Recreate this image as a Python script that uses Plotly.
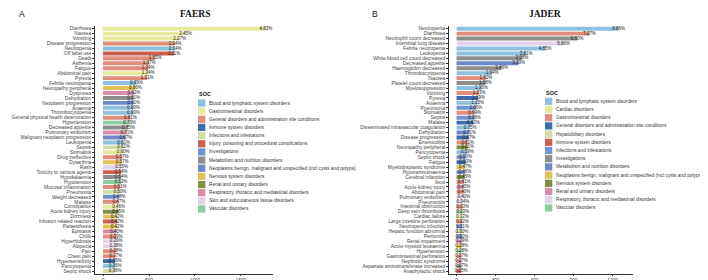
import plotly.graph_objects as go

W, H = 708, 280

# ---------------- data ----------------
faers_terms = ["Diarrhoea", "Nausea", "Vomiting", "Disease progression", "Neutropenia", "Off label use",
               "Death", "Asthenia", "Fatigue", "Abdominal pain", "Pyrexia", "Febrile neutropenia",
               "Neuropathy peripheral", "Dyspnoea", "Dehydration", "Neoplasm progression", "Anaemia",
               "Thrombocytopenia", "General physical health deterioration", "Hypertension",
               "Decreased appetite", "Pulmonary embolism", "Malignant neoplasm progression", "Leukopenia",
               "Sepsis", "Stomatitis", "Drug ineffective", "Dysarthria", "Rash", "Toxicity to various agents",
               "Hypokalaemia", "Hypotension", "Mucosal inflammation", "Pneumonia", "Weight decreased",
               "Malaise", "Constipation", "Acute kidney injury", "Dizziness", "Infusion related reaction",
               "Paraesthesia", "Epistaxis", "Chills", "Hyperhidrosis", "Alopecia", "Pain", "Chest pain",
               "Hypersensitivity", "Pancytopenia", "Septic shock"]
faers_counts = [1770, 898, 832, 784, 783, 773, 568, 502, 491, 490, 480, 363, 352, 337, 334, 333, 330, 329,
                297, 290, 275, 260, 246, 224, 223, 220, 209, 208, 202, 198, 197, 194, 187, 183, 176, 172,
                169, 168, 154, 154, 153, 147, 143, 142, 139, 139, 136, 132, 132, 131]
faers_labels = ["4.83%", "2.45%", "2.27%", "2.14%", "2.14%", "2.11%", "1.55%", "1.37%", "1.34%", "1.34%",
                "1.31%", "0.99%", "0.96%", "0.92%", "0.91%", "0.91%", "0.90%", "0.90%", "0.81%", "0.79%",
                "0.75%", "0.71%", "0.67%", "0.61%", "0.61%", "0.60%", "0.57%", "0.57%", "0.55%", "0.54%",
                "0.54%", "0.53%", "0.51%", "0.50%", "0.48%", "0.47%", "0.46%", "0.46%", "0.42%", "0.42%",
                "0.42%", "0.40%", "0.39%", "0.39%", "0.38%", "0.38%", "0.37%", "0.36%", "0.36%", "0.36%"]
faers_soc = ["Gastrointestinal disorders", "Gastrointestinal disorders", "Gastrointestinal disorders",
             "General disorders and administration site conditions", "Blood and lymphatic system disorders",
             "Injury, poisoning and procedural complications",
             "General disorders and administration site conditions",
             "General disorders and administration site conditions",
             "General disorders and administration site conditions", "Gastrointestinal disorders",
             "General disorders and administration site conditions", "Blood and lymphatic system disorders",
             "Nervous system disorders", "Respiratory, thoracic and mediastinal disorders",
             "Metabolism and nutrition disorders",
             "Neoplasms benign, malignant and unspecified (incl cysts and polyps)",
             "Blood and lymphatic system disorders", "Blood and lymphatic system disorders",
             "General disorders and administration site conditions", "Vascular disorders",
             "Metabolism and nutrition disorders", "Respiratory, thoracic and mediastinal disorders",
             "Neoplasms benign, malignant and unspecified (incl cysts and polyps)",
             "Blood and lymphatic system disorders", "Infections and infestations", "Gastrointestinal disorders",
             "General disorders and administration site conditions", "Nervous system disorders",
             "Skin and subcutaneous tissue disorders", "Injury, poisoning and procedural complications",
             "Metabolism and nutrition disorders", "Vascular disorders",
             "General disorders and administration site conditions", "Infections and infestations",
             "Investigations", "General disorders and administration site conditions",
             "Gastrointestinal disorders", "Renal and urinary disorders", "Nervous system disorders",
             "Injury, poisoning and procedural complications", "Nervous system disorders",
             "Respiratory, thoracic and mediastinal disorders",
             "General disorders and administration site conditions", "Skin and subcutaneous tissue disorders",
             "Skin and subcutaneous tissue disorders", "General disorders and administration site conditions",
             "General disorders and administration site conditions", "Immune system disorders",
             "Blood and lymphatic system disorders", "Infections and infestations"]
faers_legend = ["Blood and lymphatic system disorders", "Gastrointestinal disorders",
                "General disorders and administration site conditions", "Immune system disorders",
                "Infections and infestations", "Injury, poisoning and procedural complications",
                "Investigations", "Metabolism and nutrition disorders",
                "Neoplasms benign, malignant and unspecified (incl cysts and polyps)",
                "Nervous system disorders", "Renal and urinary disorders",
                "Respiratory, thoracic and mediastinal disorders", "Skin and subcutaneous tissue disorders",
                "Vascular disorders"]

jader_terms = ["Neutropenia", "Diarrhoea", "Neutrophil count decreased", "Interstitial lung disease",
               "Febrile neutropenia", "Leukopenia", "White blood cell count decreased", "Decreased appetite",
               "Haemoglobin decreased", "Thrombocytopenia", "Nausea", "Platelet count decreased",
               "Myelosuppression", "Vomiting", "Pyrexia", "Anaemia", "Pneumonia", "Stomatitis", "Sepsis",
               "Malaise", "Disseminated intravascular coagulation", "Dehydration", "Disease progression",
               "Enterocolitis", "Neuropathy peripheral", "Pancytopenia", "Septic shock", "Fatigue",
               "Myelodysplastic syndrome", "Hyperammonaemia", "Cerebral infarction", "Ileus",
               "Acute kidney injury", "Abdominal pain", "Pulmonary embolism", "Pneumonitis",
               "Intestinal obstruction", "Deep vein thrombosis", "Cardiac failure", "Large intestine perforation",
               "Neutropenic infection", "Hepatic function abnormal", "Peritonitis", "Renal impairment",
               "Acute myeloid leukaemia", "Hypertension", "Gastrointestinal perforation", "Nephrotic syndrome",
               "Aspartate aminotransferase increased", "Anaphylactic shock"]
jader_counts = [1246, 1022, 928, 824, 682, 536, 503, 477, 346, 273, 225, 222, 191, 173, 167, 162, 149, 139,
                138, 129, 105, 100, 94, 86, 86, 83, 70, 70, 66, 65, 63, 58, 56, 56, 56, 48, 46, 46, 45, 45,
                44, 42, 42, 41, 39, 39, 38, 38, 38, 35]
jader_labels = ["8.86%", "7.27%", "6.60%", "5.86%", "4.85%", "3.81%", "3.58%", "3.39%", "2.46%", "1.94%",
                "1.60%", "1.58%", "1.36%", "1.23%", "1.19%", "1.15%", "1.06%", "0.99%", "0.98%", "0.92%",
                "0.75%", "0.71%", "0.67%", "0.61%", "0.61%", "0.59%", "0.50%", "0.50%", "0.47%", "0.46%",
                "0.45%", "0.41%", "0.40%", "0.40%", "0.40%", "0.34%", "0.33%", "0.33%", "0.32%", "0.32%",
                "0.31%", "0.30%", "0.30%", "0.29%", "0.28%", "0.28%", "0.27%", "0.27%", "0.27%", "0.25%"]
jader_soc = ["Blood and lymphatic system disorders", "Gastrointestinal disorders", "Investigations",
             "Respiratory, thoracic and mediastinal disorders", "Blood and lymphatic system disorders",
             "Blood and lymphatic system disorders", "Investigations", "Metabolism and nutrition disorders",
             "Investigations", "Blood and lymphatic system disorders", "Gastrointestinal disorders",
             "Investigations", "Blood and lymphatic system disorders", "Gastrointestinal disorders",
             "General disorders and administration site conditions", "Blood and lymphatic system disorders",
             "Infections and infestations", "Gastrointestinal disorders", "Infections and infestations",
             "General disorders and administration site conditions", "Blood and lymphatic system disorders",
             "Metabolism and nutrition disorders", "General disorders and administration site conditions",
             "Gastrointestinal disorders", "Nervous system disorders", "Blood and lymphatic system disorders",
             "Infections and infestations", "General disorders and administration site conditions",
             "Neoplasms benign, malignant and unspecified (incl cysts and polyps)",
             "Metabolism and nutrition disorders", "Nervous system disorders", "Gastrointestinal disorders",
             "Renal and urinary disorders", "Gastrointestinal disorders",
             "Respiratory, thoracic and mediastinal disorders", "Respiratory, thoracic and mediastinal disorders",
             "Gastrointestinal disorders", "Vascular disorders", "Cardiac disorders", "Gastrointestinal disorders",
             "Infections and infestations", "Hepatobiliary disorders", "Infections and infestations",
             "Renal and urinary disorders",
             "Neoplasms benign, malignant and unspecified (incl cysts and polyps)", "Vascular disorders",
             "Gastrointestinal disorders", "Renal and urinary disorders", "Investigations",
             "Immune system disorders"]
jader_legend = ["Blood and lymphatic system disorders", "Cardiac disorders", "Gastrointestinal disorders",
                "General disorders and administration site conditions", "Hepatobiliary disorders",
                "Immune system disorders", "Infections and infestations", "Investigations",
                "Metabolism and nutrition disorders",
                "Neoplasms benign, malignant and unspecified (incl cysts and polyps)",
                "Nervous system disorders", "Renal and urinary disorders",
                "Respiratory, thoracic and mediastinal disorders", "Vascular disorders"]

faers_ticks = [0, 500, 1000, 1500]
jader_ticks = [0, 300, 600, 900, 1200]

palette = ["#8EC0E0", "#E6E99E", "#E28C7B", "#3C6BAE", "#D4DBA5", "#CD5F4F", "#7392D2",
           "#8E8E8E", "#6E87CB", "#E2C254", "#7D8F41", "#D78DA7", "#E3D2E8", "#90CCA1"]

SANS = "Liberation Sans, Arial, sans-serif"
SERIF = "Liberation Serif, Times New Roman, serif"

fig = go.Figure()


def px_x(p):
    return p / W


def px_y(p):
    return 1 - p / H


def add_panel(terms, counts, labels, socs, legend, xa, ya):
    cmap = {s: palette[i] for i, s in enumerate(legend)}
    for s in legend:
        ys = [t for t, so in zip(terms, socs) if so == s]
        xs = [c for c, so in zip(counts, socs) if so == s]
        if not ys:
            continue
        fig.add_trace(go.Bar(x=xs, y=ys, orientation="h", width=0.8,
                             marker=dict(color=cmap[s], line=dict(width=0)),
                             xaxis=xa, yaxis=ya, showlegend=False, hoverinfo="skip"))
    fig.add_trace(go.Scatter(x=counts, y=terms, mode="text", text=labels,
                             textposition="middle center",
                             textfont=dict(size=4.5, color="#222", family=SANS),
                             xaxis=xa, yaxis=ya, showlegend=False, hoverinfo="skip",
                             cliponaxis=False))


add_panel(faers_terms, faers_counts, faers_labels, faers_soc, faers_legend, "x", "y")
add_panel(jader_terms, jader_counts, jader_labels, jader_soc, jader_legend, "x2", "y2")

n = len(faers_terms)
ydom = [px_y(266.0), px_y(17.7)]
axis_common = dict(showline=True, linecolor="#333", linewidth=0.6, showgrid=False, zeroline=False,
                   ticks="outside", tickwidth=0.6, tickcolor="#333", automargin=False,
                   tickfont=dict(size=4.9, color="#444", family=SANS))
yaxis_extra = dict(type="category", tickmode="linear", tick0=0, dtick=1, ticklen=2)
xaxis_extra = dict(ticklen=1.5, tickfont=dict(size=4.7, color="#444", family=SANS))

fig.update_layout(
    width=W, height=H, margin=dict(l=0, r=0, t=0, b=0, autoexpand=False),
    paper_bgcolor="white", plot_bgcolor="white", barmode="overlay",
    xaxis=dict(domain=[px_x(87), px_x(265)], range=[-87, 1848], tickvals=faers_ticks,
               anchor="y", **{**axis_common, **xaxis_extra}),
    yaxis=dict(domain=ydom, categoryorder="array", categoryarray=faers_terms,
               range=[n - 1 + 0.6, -0.6], anchor="x", **axis_common, **yaxis_extra),
    xaxis2=dict(domain=[px_x(441), px_x(625)], range=[-58, 1357], tickvals=jader_ticks,
                anchor="y2", **{**axis_common, **xaxis_extra}),
    yaxis2=dict(domain=ydom, categoryorder="array", categoryarray=jader_terms,
                range=[len(jader_terms) - 1 + 0.6, -0.6], anchor="x2", **axis_common, **yaxis_extra),
)

annotations = []
shapes = []


def add_text(x, y, text, size, family=SANS, color="#222", xanchor="center", bold=False):
    if bold:
        text = "<b>" + text + "</b>"
    annotations.append(dict(x=px_x(x), y=px_y(y), xref="paper", yref="paper", text=text,
                            showarrow=False, xanchor=xanchor, yanchor="middle",
                            font=dict(size=size, family=family, color=color), borderpad=0))


add_text(14.5, 5.5, "A", 8.5, color="#111")
add_text(367.5, 5.5, "B", 8.5, color="#111")
add_text(187, 6, "FAERS", 9.5, family=SERIF, color="#111", bold=True)
add_text(537, 6, "JADER", 9.5, family=SERIF, color="#111", bold=True)


def add_legend(legend, x0, y_title, y_first, step):
    add_text(x0 - 0.5, y_title, "SOC", 5.5, color="#111", xanchor="left", bold=True)
    for i, s in enumerate(legend):
        yc = y_first + i * step
        shapes.append(dict(type="rect", xref="paper", yref="paper",
                           x0=px_x(x0), x1=px_x(x0 + 7.3), y0=px_y(yc + 3.6), y1=px_y(yc - 3.6),
                           fillcolor=palette[i], line=dict(width=0)))
        add_text(x0 + 9.5, yc, s, 4.8, color="#333", xanchor="left")


add_legend(faers_legend, 190, 85.5, 95, 8.15)
add_legend(jader_legend, 537, 84.5, 93.3, 8.2)

fig.update_layout(annotations=annotations, shapes=shapes)
fig.write_html("out.html")
